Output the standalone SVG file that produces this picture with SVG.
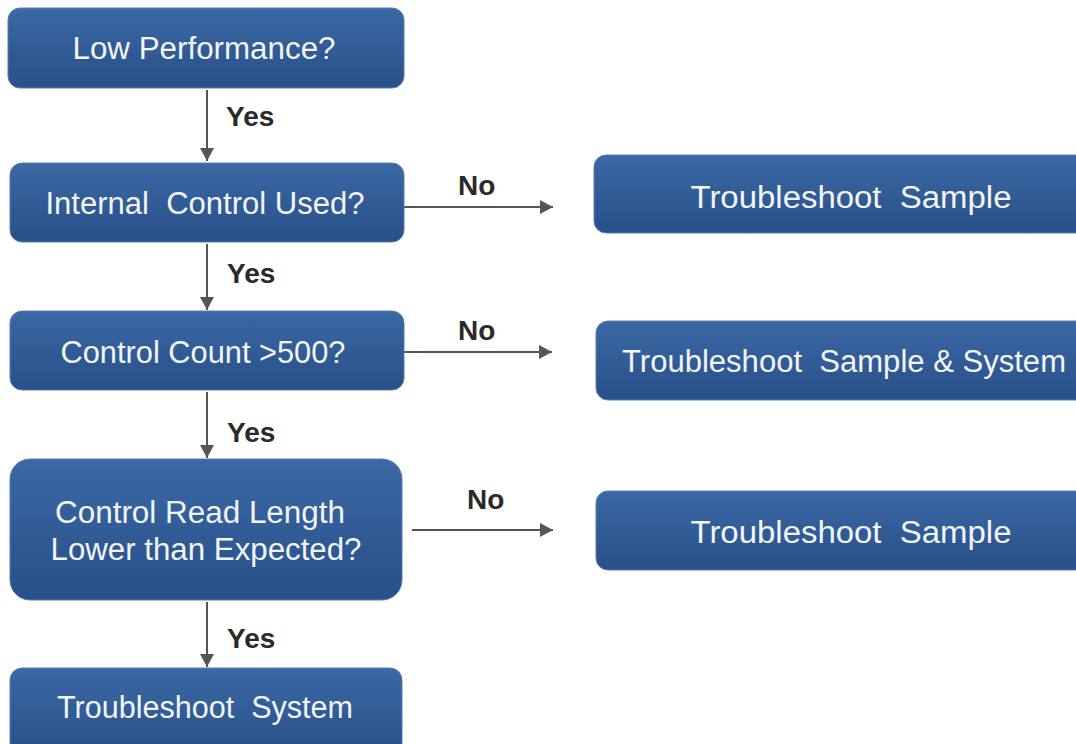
<svg xmlns="http://www.w3.org/2000/svg" width="1076" height="744" viewBox="0 0 1076 744">
<style>
.box{fill:url(#g);stroke:#5a7fb0;stroke-width:1}
.t{font-family:"Liberation Sans",Arial,sans-serif;font-size:31px;fill:#f2f4f8;text-anchor:middle;white-space:pre}
.lbl{font-family:"Liberation Sans",Arial,sans-serif;font-size:28px;font-weight:bold;fill:#2a2a2a}
.c{stroke:#555;stroke-width:2;fill:none;marker-end:url(#ah)}
</style>
<defs>
<linearGradient id="g" x1="0" y1="0" x2="0" y2="1">
<stop offset="0" stop-color="#3a69a5"/>
<stop offset="1" stop-color="#284f88"/>
</linearGradient>
<marker id="ah" markerUnits="userSpaceOnUse" markerWidth="14" markerHeight="14" refX="13" refY="7" orient="auto">
<path d="M0,0 L13,7 L0,14 Z" fill="#555"/>
</marker>
</defs>
<rect width="1076" height="744" fill="#fff"/>
<g id="connectors">
<line class="c" x1="207" y1="90" x2="207" y2="161"/>
<line class="c" x1="207" y1="244" x2="207" y2="310"/>
<line class="c" x1="207" y1="392" x2="207" y2="458"/>
<line class="c" x1="207" y1="602" x2="207" y2="667"/>
<line class="c" x1="404" y1="207" x2="553" y2="207"/>
<line class="c" x1="404" y1="352" x2="552" y2="352"/>
<line class="c" x1="412" y1="530" x2="553" y2="530"/>
<text class="lbl" x="226" y="126">Yes</text>
<text class="lbl" x="227" y="283">Yes</text>
<text class="lbl" x="227" y="442">Yes</text>
<text class="lbl" x="227" y="648">Yes</text>
<text class="lbl" x="458" y="195">No</text>
<text class="lbl" x="458" y="340">No</text>
<text class="lbl" x="467" y="509">No</text>
</g>
<g id="n1"><rect class="box" x="8" y="8" width="396" height="80" rx="12"/><text class="t" x="204" y="59" textLength="263" lengthAdjust="spacingAndGlyphs">Low Performance?</text></g>
<g id="n2"><rect class="box" x="10" y="163" width="394" height="79" rx="12"/><text class="t" x="205" y="214" textLength="319" lengthAdjust="spacingAndGlyphs">Internal  Control Used?</text></g>
<g id="n3"><rect class="box" x="10" y="311" width="394" height="79" rx="12"/><text class="t" x="203" y="363" textLength="285" lengthAdjust="spacingAndGlyphs">Control Count &gt;500?</text></g>
<g id="n4"><rect class="box" x="10" y="459" width="392" height="141" rx="20"/><text class="t" x="200" y="523" textLength="290" lengthAdjust="spacingAndGlyphs">Control Read Length</text><text class="t" x="206" y="560" textLength="311" lengthAdjust="spacingAndGlyphs">Lower than Expected?</text></g>
<g id="n5"><rect class="box" x="10" y="668" width="392" height="90" rx="12"/><text class="t" x="205" y="718" textLength="296" lengthAdjust="spacingAndGlyphs">Troubleshoot  System</text></g>
<g id="nA"><rect class="box" x="594" y="155" width="500" height="78" rx="12"/><text class="t" x="851" y="208" textLength="321" lengthAdjust="spacingAndGlyphs">Troubleshoot  Sample</text></g>
<g id="nB"><rect class="box" x="596" y="321" width="500" height="79" rx="12"/><text class="t" x="844" y="372" textLength="444" lengthAdjust="spacingAndGlyphs">Troubleshoot  Sample &amp; System</text></g>
<g id="nC"><rect class="box" x="596" y="491" width="500" height="79" rx="12"/><text class="t" x="851" y="543" textLength="321" lengthAdjust="spacingAndGlyphs">Troubleshoot  Sample</text></g>
</svg>
